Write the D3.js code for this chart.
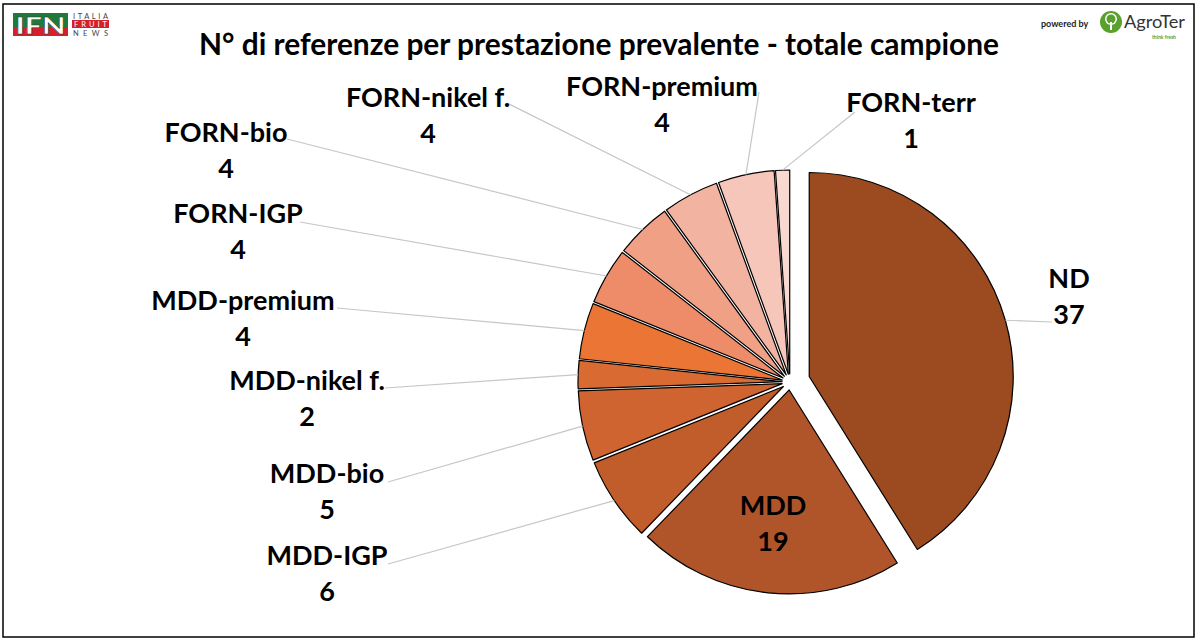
<!DOCTYPE html>
<html>
<head>
<meta charset="utf-8">
<script src="https://cdn.jsdelivr.net/npm/d3@7/dist/d3.min.js"></script>
<style>
  html, body { margin: 0; padding: 0; background: #fff; }
  svg { display: block; }
  text { font-family: Lato, "Open Sans", sans-serif; }
</style>
</head>
<body>
<svg id="chart" width="1200" height="644"></svg>
<script>
// ---- data ----
const categories = ["ND", "MDD", "MDD-IGP", "MDD-bio", "MDD-nikel f.", "MDD-premium",
                    "FORN-IGP", "FORN-bio", "FORN-nikel f.", "FORN-premium", "FORN-terr"];
const values = [37, 19, 6, 5, 2, 4, 4, 4, 4, 4, 1];
const colors = ["#9C4A1F", "#B0552A", "#C15C2B", "#CF6430", "#D96A31", "#EB7535",
                "#EE8C69", "#F0A085", "#F2B3A1", "#F5C6B9", "#F8D8D0"];
const title = "N° di referenze per prestazione prevalente - totale campione";

// ---- layout ----
const cx = 790, cy = 382, R = 204;
const explode = [20, 8, 8, 8, 8, 8, 8, 8, 8, 8, 8];
// label centre x, first-line centre y, leader start point (null = no leader)
const labelLayout = [
  {x: 1069, y: 278, lx: 1052, ly: 322},
  {x: 773,  y: 505, lx: null, ly: null},
  {x: 327,  y: 555, lx: 388,  ly: 564},
  {x: 327,  y: 473, lx: 388,  ly: 482},
  {x: 307,  y: 380, lx: 385,  ly: 388},
  {x: 243,  y: 300, lx: 337,  ly: 308},
  {x: 238,  y: 213, lx: 300,  ly: 222},
  {x: 226,  y: 132, lx: 287,  ly: 139},
  {x: 428,  y: 97,  lx: 507,  ly: 103},
  {x: 662,  y: 86,  lx: 759,  ly: 92},
  {x: 911,  y: 102, lx: 855,  ly: 112}
];
const lineGap = 36;

const svg = d3.select("#chart");

// chart border
svg.append("rect").attr("x", 3).attr("y", 4).attr("width", 1191).attr("height", 633)
  .attr("fill", "#fff").attr("stroke", "#000").attr("stroke-width", 1.5);

// title
svg.append("text").attr("x", 599).attr("y", 55).attr("text-anchor", "middle")
  .attr("font-size", 30).attr("font-weight", 700).attr("fill", "#000")
  .attr("textLength", 800).attr("lengthAdjust", "spacingAndGlyphs")
  .text(title);

// pie
const pie = d3.pie().sort(null).value(d => d).startAngle(0).endAngle(2 * Math.PI);
const arcs = pie(values);
const arc = d3.arc().innerRadius(0).outerRadius(R);

const g = svg.append("g");
arcs.forEach((a, i) => {
  const mid = (a.startAngle + a.endAngle) / 2;
  const ox = explode[i] * Math.sin(mid), oy = -explode[i] * Math.cos(mid);
  g.append("path")
    .attr("d", arc(a))
    .attr("transform", `translate(${cx + ox},${cy + oy})`)
    .attr("fill", colors[i])
    .attr("stroke", "#000").attr("stroke-width", 1.2)
    .attr("stroke-linejoin", "round");
});

// leader lines
arcs.forEach((a, i) => {
  const L = labelLayout[i];
  if (L.lx == null) return;
  const mid = (a.startAngle + a.endAngle) / 2;
  const d = R + explode[i];
  const ex = cx + d * Math.sin(mid), ey = cy - d * Math.cos(mid);
  svg.append("line").attr("x1", L.lx).attr("y1", L.ly).attr("x2", ex).attr("y2", ey)
    .attr("stroke", "#c6c6c6").attr("stroke-width", 1.2);
});

// labels
arcs.forEach((a, i) => {
  const L = labelLayout[i];
  const t = svg.append("text").attr("text-anchor", "middle")
    .attr("font-size", 27).attr("font-weight", 700).attr("fill", "#000");
  t.append("tspan").attr("x", L.x).attr("y", L.y).attr("dy", "0.36em").text(categories[i]);
  t.append("tspan").attr("x", L.x).attr("y", L.y + lineGap).attr("dy", "0.36em").text(values[i]);
});

// IFN logo (top-left)
const lg = svg.append("g");
lg.append("rect").attr("x", 13).attr("y", 13).attr("width", 55).attr("height", 14).attr("fill", "#1d7a3b");
lg.append("rect").attr("x", 13).attr("y", 27).attr("width", 55).attr("height", 9).attr("fill", "#d3202a");
lg.append("text").attr("x", 40.5).attr("y", 34).attr("text-anchor", "middle")
  .attr("font-size", 22).attr("font-weight", 900).attr("fill", "#fff")
  .attr("stroke", "#333").attr("stroke-width", 0.5)
  .attr("textLength", 50).attr("lengthAdjust", "spacingAndGlyphs").text("IFN");
lg.append("text").attr("x", 73).attr("y", 18.5).attr("font-size", 7.5).attr("fill", "#444")
  .attr("textLength", 35).attr("lengthAdjust", "spacing").text("ITALIA");
lg.append("rect").attr("x", 72).attr("y", 20).attr("width", 37).attr("height", 8).attr("fill", "#d3202a");
lg.append("text").attr("x", 74).attr("y", 27).attr("font-size", 7.5).attr("fill", "#fff")
  .attr("textLength", 33).attr("lengthAdjust", "spacing").text("FRUIT");
lg.append("text").attr("x", 73).attr("y", 36).attr("font-size", 7.5).attr("fill", "#444")
  .attr("textLength", 35).attr("lengthAdjust", "spacing").text("NEWS");

// powered by AgroTer (top-right)
const ag = svg.append("g");
ag.append("text").attr("x", 1041).attr("y", 27).attr("font-size", 9).attr("font-weight", 700)
  .attr("fill", "#222").text("powered by");
ag.append("circle").attr("cx", 1111).attr("cy", 22).attr("r", 11).attr("fill", "#5aa02c");
ag.append("circle").attr("cx", 1111).attr("cy", 19).attr("r", 6).attr("fill", "#fff");
ag.append("circle").attr("cx", 1111).attr("cy", 19).attr("r", 4.5).attr("fill", "#5aa02c");
ag.append("rect").attr("x", 1110).attr("y", 22).attr("width", 2).attr("height", 8).attr("fill", "#fff");
ag.append("text").attr("x", 1124).attr("y", 28).attr("font-size", 17).attr("fill", "#333")
  .attr("textLength", 61).attr("lengthAdjust", "spacingAndGlyphs").text("AgroTer");
ag.append("text").attr("x", 1152).attr("y", 39).attr("font-size", 5).attr("fill", "#5aa02c")
  .attr("font-weight", 700).text("think fresh");
</script>
</body>
</html>
